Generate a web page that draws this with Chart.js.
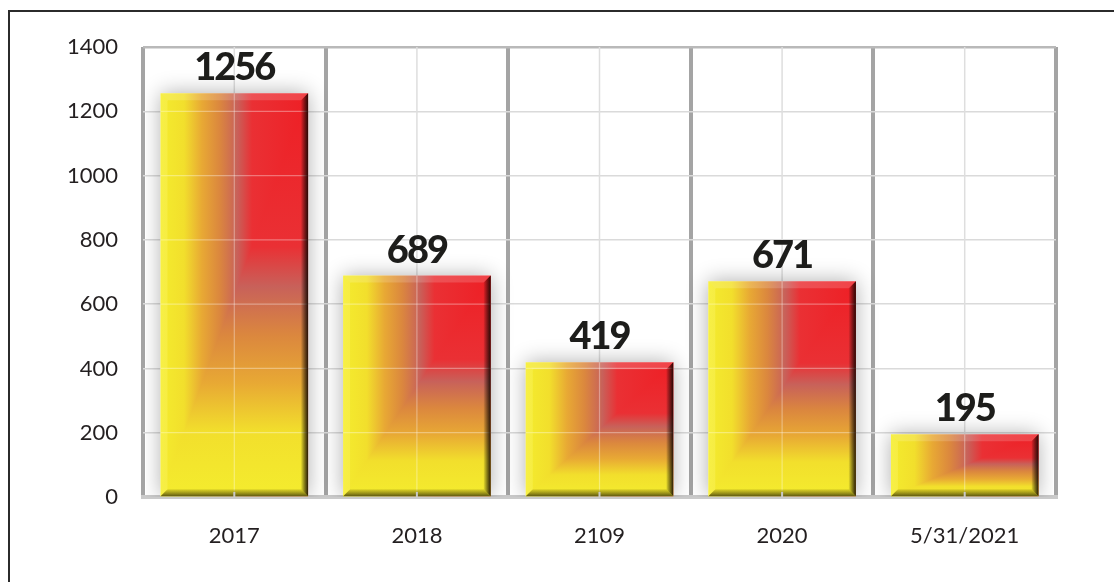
<!DOCTYPE html>
<html>
<head>
<meta charset="utf-8">
<script src="https://cdn.jsdelivr.net/npm/chart.js@4.4.1/dist/chart.umd.min.js"></script>
<style>
  html, body { margin: 0; padding: 0; background: #fff; }
  #frame { position: absolute; left: 8px; top: 10px; width: 1200px; height: 700px;
           border-top: 2px solid #2b2b2b; border-left: 2px solid #2b2b2b; }
  #wrap { position: absolute; left: 0; top: 0; width: 1114px; height: 582px; }
</style>
</head>
<body>
<div id="frame"></div>
<div id="wrap"><canvas id="barChart" width="1114" height="582"></canvas></div>
<script>
// chart data
const categories = ['2017', '2018', '2109', '2020', '5/31/2021'];
const counts = [1256, 689, 419, 671, 195];
const yTickValues = [0, 200, 400, 600, 800, 1000, 1200, 1400];

// yellow -> red "path" gradient stops (0 = red corner, 1 = yellow edge)
const stops = [
    [0.00, '#ee1f25'],
    [0.38, '#ea3034'],
    [0.48, '#c8615a'],
    [0.60, '#db873e'],
    [0.72, '#e8a934'],
    [0.84, '#f2df2c'],
    [1.00, '#f4ec2e']
];

function addStops(g, reverse) {
    stops.forEach(s => g.addColorStop(reverse ? 1 - s[0] : s[0], s[1]));
    return g;
}

function barBox(chart, i) {
    const xs = chart.scales.x;
    const slot = chart.chartArea.width / categories.length;
    const w = slot * 0.808;
    const cx = xs.getPixelForValue(i);
    return { left: cx - w / 2, right: cx + w / 2, cx: cx, w: w };
}

// horizontal part of the gradient, per bar
function barFill(context) {
    const chart = context.chart;
    if (!chart.chartArea) return '#e8a934';
    const b = barBox(chart, context.dataIndex);
    const g = chart.ctx.createLinearGradient(b.left, 0, b.right, 0);
    return addStops(g, true);
}

const bevelPlugin = {
    id: 'bevelBars',
    beforeDatasetsDraw(chart) {
        const ctx = chart.ctx;
        const area = chart.chartArea;
        const xs = chart.scales.x;
        ctx.save();
        // thin centre lines of each category
        ctx.strokeStyle = '#dedede';
        ctx.lineWidth = 1.5;
        categories.forEach((c, i) => {
            const x = xs.getPixelForValue(i);
            ctx.beginPath();
            ctx.moveTo(x, area.top);
            ctx.lineTo(x, area.bottom);
            ctx.stroke();
        });
        // soft shadow around bars
        ctx.beginPath();
        ctx.rect(area.left + 3, area.top + 2, area.width - 6, area.height - 2);
        ctx.clip();
        chart.getDatasetMeta(0).data.forEach(bar => {
            const p = bar.getProps(['x', 'y', 'base', 'width'], true);
            ctx.shadowColor = 'rgba(0,0,0,0.32)';
            ctx.shadowBlur = 20;
            ctx.fillStyle = '#fff';
            ctx.fillRect(p.x - p.width / 2, p.y, p.width, p.base - p.y);
        });
        ctx.restore();
    },
    afterDatasetsDraw(chart) {
        const ctx = chart.ctx;
        const ys = chart.scales.y;
        const bv = 7;
        chart.getDatasetMeta(0).data.forEach((bar, i) => {
            const p = bar.getProps(['x', 'y', 'base', 'width'], true);
            const L = p.x - p.width / 2, R = p.x + p.width / 2, T = p.y, B = p.base;
            ctx.save();

            // lower-right triangle uses the vertical gradient
            ctx.beginPath();
            ctx.moveTo(R, T);
            ctx.lineTo(R, B);
            ctx.lineTo(L, B);
            ctx.closePath();
            ctx.fillStyle = addStops(ctx.createLinearGradient(0, T, 0, B), false);
            ctx.fill();

            // faint grid lines seen through the bar
            ctx.save();
            ctx.beginPath();
            ctx.rect(L, T, R - L, B - T);
            ctx.clip();
            ctx.strokeStyle = 'rgba(255,255,255,0.35)';
            ctx.lineWidth = 1.2;
            yTickValues.forEach(v => {
                const y = ys.getPixelForValue(v);
                ctx.beginPath();
                ctx.moveTo(L, y);
                ctx.lineTo(R, y);
                ctx.stroke();
            });
            ctx.beginPath();
            ctx.moveTo(p.x, T);
            ctx.lineTo(p.x, B);
            ctx.stroke();
            ctx.restore();

            // bevel: left
            ctx.beginPath();
            ctx.moveTo(L, T); ctx.lineTo(L + bv, T + bv); ctx.lineTo(L + bv, B - bv); ctx.lineTo(L, B);
            ctx.closePath();
            ctx.fillStyle = 'rgba(255,250,120,0.30)';
            ctx.fill();
            // top
            ctx.beginPath();
            ctx.moveTo(L, T); ctx.lineTo(R, T); ctx.lineTo(R - bv, T + bv); ctx.lineTo(L + bv, T + bv);
            ctx.closePath();
            ctx.fillStyle = 'rgba(255,255,255,0.16)';
            ctx.fill();
            // bottom
            ctx.beginPath();
            ctx.moveTo(L, B); ctx.lineTo(R, B); ctx.lineTo(R - bv, B - bv); ctx.lineTo(L + bv, B - bv);
            ctx.closePath();
            let g = ctx.createLinearGradient(0, B - bv, 0, B);
            g.addColorStop(0, 'rgba(90,80,0,0.15)');
            g.addColorStop(1, 'rgba(55,50,10,0.80)');
            ctx.fillStyle = g;
            ctx.fill();
            // right
            ctx.beginPath();
            ctx.moveTo(R, T); ctx.lineTo(R, B); ctx.lineTo(R - bv, B - bv); ctx.lineTo(R - bv, T + bv);
            ctx.closePath();
            g = ctx.createLinearGradient(R - bv, 0, R, 0);
            g.addColorStop(0, 'rgba(0,0,0,0.05)');
            g.addColorStop(1, 'rgba(20,5,0,0.90)');
            ctx.fillStyle = g;
            ctx.fill();

            // value label
            ctx.font = '900 38px Lato';
            ctx.letterSpacing = '-2px';
            ctx.fillStyle = '#1d1d1b';
            ctx.textAlign = 'center';
            ctx.textBaseline = 'alphabetic';
            ctx.fillText(String(counts[i]), p.x, T - 13);
            ctx.restore();
        });

        // little tick marks on the floor
        const xs = chart.scales.x;
        const area = chart.chartArea;
        ctx.save();
        ctx.strokeStyle = '#c9c9c9';
        ctx.lineWidth = 2;
        categories.forEach((c, i) => {
            const x = xs.getPixelForValue(i);
            ctx.beginPath();
            ctx.moveTo(x, area.bottom);
            ctx.lineTo(x, area.bottom - 5);
            ctx.stroke();
        });
        ctx.restore();
    }
};

const ctx = document.getElementById('barChart').getContext('2d');
window.barChart = new Chart(ctx, {
    type: 'bar',
    data: {
        labels: categories,
        datasets: [{
            data: counts,
            backgroundColor: barFill,
            borderWidth: 0,
            barPercentage: 0.808,
            categoryPercentage: 1
        }]
    },
    options: {
        responsive: false,
        animation: false,
        layout: { padding: { top: 47, right: 58, bottom: 0, left: 0 } },
        plugins: {
            legend: { display: false },
            tooltip: { enabled: false }
        },
        scales: {
            x: {
                afterFit: s => { s.height = 85; },
                grid: { offset: true, color: '#a4a4a4', lineWidth: 4, drawTicks: false },
                border: { display: true, color: '#cacaca', width: 4 },
                ticks: { padding: 26, color: '#231f20', font: { family: 'Lato', size: 22 } }
            },
            y: {
                min: 0,
                max: 1400,
                afterFit: s => { s.width = 143; },
                afterBuildTicks: s => { s.ticks = yTickValues.map(v => ({ value: v })); },
                grid: {
                    drawTicks: false,
                    color: c => (c.tick && c.tick.value === 1400 ? '#b9b9b9' : '#dadada'),
                    lineWidth: c => (c.tick && c.tick.value === 1400 ? 2.5 : 1.5)
                },
                border: { display: false },
                ticks: {
                    padding: 25,
                    color: '#231f20',
                    font: { family: 'Lato', size: 22 },
                    callback: v => String(v)
                }
            }
        }
    },
    plugins: [bevelPlugin]
});
</script>
</body>
</html>
